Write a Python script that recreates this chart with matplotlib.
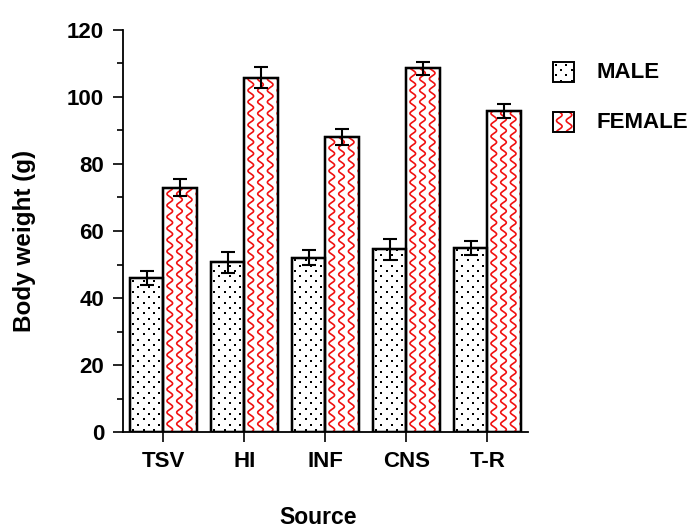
import numpy as np
import matplotlib
matplotlib.use("Agg")
import matplotlib.pyplot as plt
from matplotlib.patches import Rectangle

plt.rcParams.update({
    "font.family": "Liberation Sans",
    "font.weight": "bold",
    "axes.labelweight": "bold",
    "font.size": 16,
})

sources = ["TSV", "HI", "INF", "CNS", "T-R"]
male = [46.1, 50.7, 52.1, 54.6, 55.0]
male_err = [2.1, 3.1, 2.2, 3.1, 2.1]
female = [72.9, 105.7, 87.9, 108.4, 95.7]
female_err = [2.6, 3.0, 2.4, 2.0, 2.0]

RED = "#F01010"
BAR_W = 0.41


def px_scale(ax):
    """Pixels per data unit along x and y."""
    bb = ax.get_window_extent()
    x0, x1 = ax.get_xlim()
    y0, y1 = ax.get_ylim()
    return abs(bb.width / (x1 - x0)), abs(bb.height / (y1 - y0))


def fill_dots(ax, patch, x0, y0, w, h, sx, sy):
    # staggered dot lattice, ~5.3 px rows
    dy = 5.3 / sy
    dx = 10.6 / sx
    xs, ys = [], []
    row = 0
    y = y0 + dy * 0.5
    while y < y0 + h:
        off = 0.0 if row % 2 == 0 else dx / 2
        x = x0 + off + dx * 0.25
        while x < x0 + w:
            xs.append(x)
            ys.append(y)
            x += dx
        y += dy
        row += 1
    sc = ax.scatter(xs, ys, s=2.4, color="black", marker="s", lw=0, zorder=3)
    sc.set_clip_path(patch)


def fill_waves(ax, patch, x0, y0, w, h, sx, sy):
    # vertical wavy red lines
    gap = 9.7 / sx
    amp = 2.8 / sx
    period = 11.5 / sy
    n = int(h * sy) * 2 + 4
    yy = np.linspace(y0, y0 + h, n)
    x = x0 - gap * 0.35
    while x < x0 + w + gap:
        xx = x + amp * np.sin(2 * np.pi * (yy - y0) / period)
        ln, = ax.plot(xx, yy, color=RED, lw=1.2, zorder=3)
        ln.set_clip_path(patch)
        x += gap


fig = plt.figure(figsize=(6.89, 5.31), dpi=100)
ax = fig.add_axes([0.1785, 0.1855, 0.5878, 0.7589])

x = np.arange(len(sources))
ax.set_xlim(-0.5, 4.5)
ax.set_ylim(0, 120)
sx, sy = px_scale(ax)

bars_m = ax.bar(x - BAR_W / 2, male, BAR_W, color="white",
                edgecolor="black", lw=1.6, zorder=2)
bars_f = ax.bar(x + BAR_W / 2, female, BAR_W, color="white",
                edgecolor="black", lw=1.6, zorder=2)

for b in bars_m:
    fill_dots(ax, b, b.get_x(), 0, b.get_width(), b.get_height(), sx, sy)
for b in bars_f:
    fill_waves(ax, b, b.get_x(), 0, b.get_width(), b.get_height(), sx, sy)

# redraw outlines on top of the fill
for b in list(bars_m) + list(bars_f):
    ax.add_patch(Rectangle((b.get_x(), 0), b.get_width(), b.get_height(),
                           fill=False, ec="black", lw=1.7, zorder=4))

ax.errorbar(x - BAR_W / 2, male, yerr=male_err, fmt="none", ecolor="black",
            elinewidth=1.5, capsize=4.8, capthick=1.5, zorder=5)
ax.errorbar(x + BAR_W / 2, female, yerr=female_err, fmt="none", ecolor="black",
            elinewidth=1.5, capsize=4.8, capthick=1.5, zorder=5)

for s in ["top", "right"]:
    ax.spines[s].set_visible(False)
for s in ["left", "bottom"]:
    ax.spines[s].set_linewidth(1.3)

ax.set_yticks(np.arange(0, 121, 20))
ax.set_yticks(np.arange(10, 120, 20), minor=True)
ax.tick_params(axis="y", which="major", length=7.5, width=1.2, pad=6)
ax.tick_params(axis="y", which="minor", length=4, width=1.2)
ax.set_xticks(x)
ax.set_xticklabels(sources)
ax.tick_params(axis="x", length=7.5, width=1.2, pad=6)

ax.set_ylabel("Body weight (g)", fontsize=17.5)
ax.yaxis.set_label_coords(-0.215, 0.475)
ax.set_xlabel("Source", fontsize=16.5)
ax.xaxis.set_label_coords(0.482, -0.183)

# legend drawn in pixel space so the custom fills can be reused
lax = fig.add_axes([0, 0, 1, 1], facecolor="none")
lax.set_xlim(0, 689)
lax.set_ylim(531, 0)
lax.axis("off")
lsx, lsy = px_scale(lax)
for (lbl, yc, filler) in [("MALE", 72, fill_dots), ("FEMALE", 122, fill_waves)]:
    r = Rectangle((553, yc - 10), 21, 20, fc="white", ec="none", zorder=2)
    lax.add_patch(r)
    filler(lax, r, 553, yc - 10, 21, 20, lsx, lsy)
    lax.add_patch(Rectangle((553, yc - 10), 21, 20, fill=False, ec="black",
                            lw=1.4, zorder=4))
    lax.text(596, yc, lbl, va="center", ha="left", fontsize=16)

fig.savefig("out.png", dpi=100, facecolor="white")
